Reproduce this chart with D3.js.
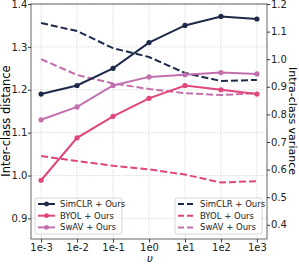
<!DOCTYPE html>
<html><head><meta charset="utf-8">
<script src="https://cdn.jsdelivr.net/npm/d3@7"></script>
<style>body{margin:0;background:#fff}svg{display:block;font-family:"DejaVu Sans",sans-serif}</style>
</head><body><svg id="c" width="299" height="264"></svg>
<script>
const xLabels = ["1e-3","1e-2","1e-1","1e0","1e1","1e2","1e3"];
const leftTicks = [0.9,1.0,1.1,1.2,1.3,1.4];
const rightTicks = [0.4,0.5,0.6,0.7,0.8,0.9,1.0,1.1,1.2];
const simclrDist = [1.19,1.21,1.25,1.31,1.35,1.371,1.365];
const byolDist   = [0.989,1.088,1.138,1.18,1.21,1.20,1.19];
const swavDist   = [1.13,1.16,1.21,1.23,1.235,1.24,1.237];
const simclrVar  = [1.131,1.102,1.04,1.008,0.95,0.921,0.925];
const byolVar    = [0.649,0.631,0.614,0.601,0.582,0.553,0.558];
const swavVar    = [1.0,0.943,0.912,0.892,0.877,0.87,0.877];
const names = ["SimCLR + Ours","BYOL + Ours","SwAV + Ours"];
const colors = ["#1e2a4a","#e0457b","#c36fae"];

const svg = d3.select("#c");
const L=31,R=267,T=4,B=239;
const x = d3.scaleLinear().domain([-0.28,6.28]).range([L,R]);
const yl = d3.scaleLinear().domain([0.852,1.4]).range([B,T]);
const yr = d3.scaleLinear().domain([0.3485,1.2]).range([B,T]);

// grid
const g = svg.append("g");
g.selectAll(".gx").data(xLabels).join("line").attr("x1",(d,i)=>x(i)).attr("x2",(d,i)=>x(i)).attr("y1",T).attr("y2",B).attr("stroke","#dcdcdc").attr("stroke-width",0.8).attr("stroke-dasharray","2,1");
g.selectAll(".gy").data(leftTicks).join("line").attr("x1",L).attr("x2",R).attr("y1",d=>yl(d)).attr("y2",d=>yl(d)).attr("stroke","#dcdcdc").attr("stroke-width",0.8).attr("stroke-dasharray","2,1");

const lineL = d3.line().x((d,i)=>x(i)).y(d=>yl(d));
const lineR = d3.line().x((d,i)=>x(i)).y(d=>yr(d));

const varSeries=[simclrVar,byolVar,swavVar];
const distSeries=[simclrDist,byolDist,swavDist];
varSeries.forEach((s,k)=>{
  svg.append("path").attr("d",lineR(s)).attr("fill","none").attr("stroke",colors[k]).attr("stroke-width",2).attr("stroke-dasharray","7,3");
});
distSeries.forEach((s,k)=>{
  svg.append("path").attr("d",lineL(s)).attr("fill","none").attr("stroke",colors[k]).attr("stroke-width",2);
  svg.selectAll(null).data(s).join("circle").attr("cx",(d,i)=>x(i)).attr("cy",d=>yl(d)).attr("r",2.6).attr("fill",colors[k]);
});

// frame
svg.append("rect").attr("x",L).attr("y",T).attr("width",R-L).attr("height",B-T).attr("fill","none").attr("stroke","#555").attr("stroke-width",0.9);

// axes
const ax = svg.append("g").attr("transform",`translate(0,${B})`).call(d3.axisBottom(x).tickValues(d3.range(7)).tickFormat(i=>xLabels[i]).tickSize(3.5).tickPadding(1));
const al = svg.append("g").attr("transform",`translate(${L},0)`).call(d3.axisLeft(yl).tickValues(leftTicks).tickFormat(d3.format(".1f")).tickSize(3).tickPadding(0.6));
const ar = svg.append("g").attr("transform",`translate(${R},0)`).call(d3.axisRight(yr).tickValues(rightTicks).tickFormat(d3.format(".1f")).tickSize(3).tickPadding(1));
[ax,al,ar].forEach(a=>{a.select(".domain").remove();a.selectAll("text").attr("font-size",10).attr("fill","#222").attr("font-family","DejaVu Sans");a.selectAll("line").attr("stroke","#333");});

svg.append("text").attr("x",150).attr("y",262).attr("text-anchor","middle").attr("font-size",10).attr("font-style","italic").text("υ");
svg.append("text").attr("transform","translate(9.8,121) rotate(-90)").attr("text-anchor","middle").attr("font-size",11.5).text("Inter-class distance");
svg.append("text").attr("transform","translate(288.5,121) rotate(90)").attr("text-anchor","middle").attr("font-size",11).text("Intra-class variance");

// legends
function legend(x0,y0,w,dashed){
  const lg=svg.append("g");
  lg.append("rect").attr("x",x0).attr("y",y0).attr("width",w).attr("height",36).attr("rx",2).attr("fill","#fff").attr("fill-opacity",0.85).attr("stroke","#ccc").attr("stroke-width",0.8);
  names.forEach((n,k)=>{
    const yy=y0+6+k*11.7;
    lg.append("line").attr("x1",x0+3).attr("x2",x0+20).attr("y1",yy).attr("y2",yy).attr("stroke",colors[k]).attr("stroke-width",2).attr("stroke-dasharray",dashed?"6,3":null);
    if(!dashed) lg.append("circle").attr("cx",x0+11.5).attr("cy",yy).attr("r",2.4).attr("fill",colors[k]);
    lg.append("text").attr("x",x0+25).attr("y",yy+3).attr("font-size",8.5).attr("fill","#222").text(n);
  });
}
legend(35,198,87,false);
legend(175,198,87,true);
</script></body></html>
